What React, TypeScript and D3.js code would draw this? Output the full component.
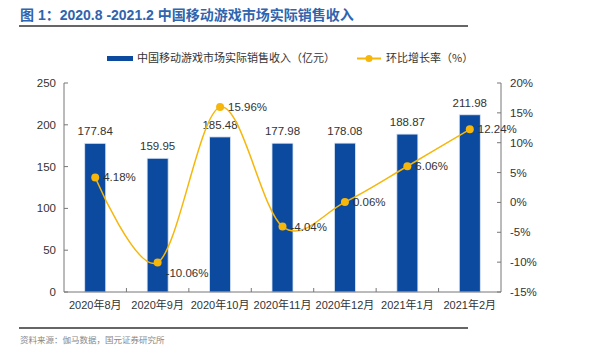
import React from "react";
import * as d3 from "d3";

const categories = ["2020年8月", "2020年9月", "2020年10月", "2020年11月", "2020年12月", "2021年1月", "2021年2月"];
const revenue = [177.84, 159.95, 185.48, 177.98, 178.08, 188.87, 211.98];
const growth = [4.18, -10.06, 15.96, -4.04, 0.06, 6.06, 12.24];
const leftTicks = [0, 50, 100, 150, 200, 250];
const rightTicks = [-15, -10, -5, 0, 5, 10, 15, 20];

const W = 600, H = 351;
const FONT = "Liberation Sans, Arial, 'Noto Sans CJK SC', sans-serif";
const CJK = "'Noto Sans CJK SC', sans-serif";

export default function App() {
  const left = 64, right = 501, top = 83, bottom = 292;
  const x = d3.scaleBand<string>().domain(categories).range([left, right]).paddingInner(0).paddingOuter(0);
  const yL = d3.scaleLinear().domain([0, 250]).range([bottom, top]);
  const yR = d3.scaleLinear().domain([-15, 20]).range([bottom, top]);
  const barW = 21;
  const cx = (c: string) => (x(c) as number) + x.bandwidth() / 2;
  const pts: [number, number][] = categories.map((c, i) => [cx(c), yR(growth[i])]);
  const line = d3.line().curve(d3.curveCardinal.tension(0))(pts) as string;
  const blue = "#0b4a9e";
  const gold = "#f6b60a";
  const txt = "#333";

  return (
    <svg width={W} height={H} style={{ position: "absolute", left: 0, top: 0, background: "#fff" }}>
      <text x={20} y={20} fontFamily="Liberation Sans, 'Noto Sans CJK SC', sans-serif" fontWeight="bold" fontSize={14} fill="#2f64ae">图 1：2020.8 -2021.2 中国移动游戏市场实际销售收入</text>
      <line x1={19} x2={468} y1={26} y2={26} stroke="#333" strokeWidth={1.5} />

      {/* legend */}
      <rect x={107} y={56} width={26} height={5} fill={blue} />
      <text x={137} y={62} fontFamily={CJK} fontSize={11} fill={txt}>中国移动游戏市场实际销售收入（亿元）</text>
      <line x1={357} x2={381} y1={58.5} y2={58.5} stroke={gold} strokeWidth={2} />
      <circle cx={369} cy={58.5} r={3.5} fill={gold} />
      <text x={386} y={62} fontFamily={CJK} fontSize={11} fill={txt}>环比增长率（%）</text>

      {/* bars */}
      {categories.map((c, i) => (
        <rect key={c} x={cx(c) - barW / 2} y={yL(revenue[i])} width={barW} height={bottom - yL(revenue[i])} fill={blue} stroke="#dbe6f5" strokeWidth={0.8} />
      ))}
      {categories.map((c, i) => (
        <text key={"v" + c} x={cx(c)} y={yL(revenue[i]) - 8} textAnchor="middle" fontFamily={FONT} fontSize={11.5} fill={txt}>{revenue[i].toFixed(2)}</text>
      ))}

      {/* axes */}
      <line x1={left} x2={left} y1={top} y2={bottom} stroke="#777" />
      <line x1={right} x2={right} y1={top} y2={bottom} stroke="#777" />
      <line x1={left} x2={right} y1={bottom} y2={bottom} stroke="#777" />
      {leftTicks.map((t) => (
        <g key={"l" + t}>
          <line x1={left} x2={left + 4} y1={yL(t)} y2={yL(t)} stroke="#777" />
          <text x={left - 8} y={yL(t) + 4} textAnchor="end" fontFamily={FONT} fontSize={11.5} fill={txt}>{t}</text>
        </g>
      ))}
      {rightTicks.map((t) => (
        <g key={"r" + t}>
          <line x1={right - 4} x2={right} y1={yR(t)} y2={yR(t)} stroke="#777" />
          <text x={right + 9} y={yR(t) + 4} textAnchor="start" fontFamily={FONT} fontSize={11.5} fill={txt}>{t + "%"}</text>
        </g>
      ))}
      {categories.map((c, i) => (
        <g key={"x" + c}>
          {i > 0 && <line x1={x(c) as number} x2={x(c) as number} y1={bottom} y2={bottom - 4} stroke="#777" />}
          <text x={cx(c)} y={bottom + 17} textAnchor="middle" fontFamily={FONT} fontSize={11} fill={txt}>{c}</text>
        </g>
      ))}

      {/* line */}
      <path d={line} fill="none" stroke={gold} strokeWidth={1.5} />
      {pts.map((p, i) => (
        <circle key={"p" + i} cx={p[0]} cy={p[1]} r={4} fill={gold} />
      ))}
      {pts.map((p, i) => (
        <text key={"g" + i} x={p[0] + 8} y={p[1] + (i === 1 ? 14 : 4)} fontFamily={FONT} fontSize={11.5} fill={txt}>{growth[i].toFixed(2) + "%"}</text>
      ))}

      <line x1={19} x2={468} y1={328} y2={328} stroke="#333" strokeWidth={1.5} />
      <text x={20} y={343} fontFamily={CJK} fontSize={8.5} fill="#888">资料来源：伽马数据，国元证券研究所</text>
    </svg>
  );
}
